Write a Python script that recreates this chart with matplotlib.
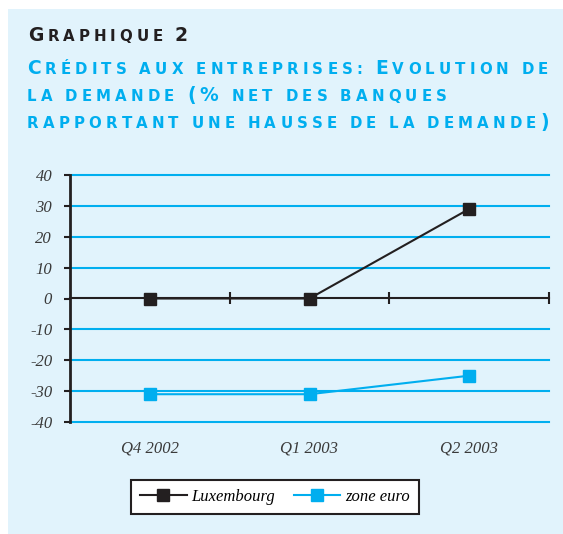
import matplotlib
matplotlib.use("Agg")
import matplotlib.pyplot as plt
from matplotlib.patches import Rectangle

# Données
trimestres = ["Q4 2002", "Q1 2003", "Q2 2003"]
luxembourg = [0, 0, 29]
zone_euro = [-31, -31, -25]
graduations = [-40, -30, -20, -10, 0, 10, 20, 30, 40]

titre = "Graphique 2"
sous_titre = ["Crédits aux entreprises: Evolution de",
              "la demande (% net des banques",
              "rapportant une hausse de la demande)"]

NOIR = "#231f20"
BLEU = "#00aeef"
FOND = "#e1f3fc"

W, H = 563, 534
fig = plt.figure(figsize=(W / 100, H / 100), dpi=100)
fig.patches.append(Rectangle((8 / W, 0), 1, 1 - 9 / H, transform=fig.transFigure,
                             facecolor=FOND, edgecolor="none", zorder=-10))
renderer = fig.canvas.get_renderer()


# petites capitales, lettre par lettre avec espacement
def mesure(ch, size, weight):
    t = fig.text(0, 0, ch, fontsize=size, fontweight=weight, family="DejaVu Sans")
    w = t.get_window_extent(renderer).width
    t.remove()
    return w


def taille(c, grand, petit):
    return grand if (c.isupper() or c.isdigit() or c in "()%") else petit


def petites_caps(texte, x0, base, grand, petit, color, weight, track):
    x = x0
    for c in texte:
        size = taille(c, grand, petit)
        ch = c.upper()
        if ch == " ":
            x += 0.30 * petit * 100 / 72 + track
            continue
        fig.text(x / W, 1 - base / H, ch, fontsize=size, fontweight=weight,
                 family="DejaVu Sans", color=color, ha="left", va="baseline")
        x += mesure(ch, size, weight) + track


def largeur(texte, grand, petit, weight):
    tot = 0
    for c in texte:
        size = taille(c, grand, petit)
        if c == " ":
            tot += 0.30 * petit * 100 / 72
        else:
            tot += mesure(c.upper(), size, weight)
    return tot, len(texte)


# titre noir
g, p = 13.5, 10.8
tot, n = largeur(titre, g, p, "bold")
track = (188 - 28 - tot) / (n - 1)
petites_caps(titre, 28, 41, g, p, NOIR, "bold", track)

# sous-titre bleu
tot, n = largeur(sous_titre[0], g, p, "bold")
track = (548 - 27 - tot) / (n - 1)
for ligne, base in zip(sous_titre, [74, 101, 128]):
    petites_caps(ligne, 27, base, g, p, BLEU, "bold", track)

# graphique
ax = fig.add_axes([70 / W, 1 - 422 / H, (549 - 70) / W, (422 - 175) / H])
ax.patch.set_alpha(0)
x = list(range(len(trimestres)))
ax.set_xlim(-0.5, len(trimestres) - 0.5)
ax.set_ylim(graduations[0], graduations[-1])

ax.set_yticks(graduations)
ax.set_yticklabels([str(v) for v in graduations], family="Liberation Serif",
                   style="italic", fontsize=12, color="#3a3a3a")
ax.set_xticks(x)
ax.set_xticklabels(trimestres, family="Liberation Serif", style="italic",
                   fontsize=12, color="#3a3a3a")
ax.tick_params(axis="x", length=0, pad=13)
ax.tick_params(axis="y", length=4.3, width=1.5, color=NOIR, pad=8.5)
ax.yaxis.grid(True, color=BLEU, linewidth=1.5)
for v, gl in zip(graduations, ax.get_ygridlines()):
    gl.set_clip_on(False)
    if v == 0:
        gl.set_visible(False)
ax.set_axisbelow(True)
for s in ["top", "right", "bottom"]:
    ax.spines[s].set_visible(False)
ax.spines["left"].set_linewidth(2)
ax.spines["left"].set_color(NOIR)

# axe du zéro avec graduations entre trimestres
secax = ax.secondary_xaxis(0.5)
secax.set_xticks([i + 0.5 for i in x])
secax.tick_params(direction="inout", length=8.6, width=1.5, color=NOIR,
                  labeltop=False, labelbottom=False)
for s in secax.spines.values():
    s.set_linewidth(1.5)
    s.set_color(NOIR)

ax.plot(x, luxembourg, color=NOIR, lw=1.5, marker="s", markersize=9,
        label="Luxembourg", zorder=5)
ax.plot(x, zone_euro, color=BLEU, lw=1.5, marker="s", markersize=9,
        label="zone euro", zorder=5)

leg = fig.legend(loc="center", bbox_to_anchor=(275 / W, 1 - 497 / H), ncol=2,
                 prop={"family": "Liberation Serif", "style": "italic", "size": 12},
                 fancybox=False, framealpha=1, facecolor="white",
                 handlelength=2.8, handletextpad=0.3, columnspacing=1.1,
                 borderpad=0.55, borderaxespad=0)
leg.get_frame().set_edgecolor(NOIR)
leg.get_frame().set_linewidth(1.5)

fig.savefig("out.png", dpi=100)
